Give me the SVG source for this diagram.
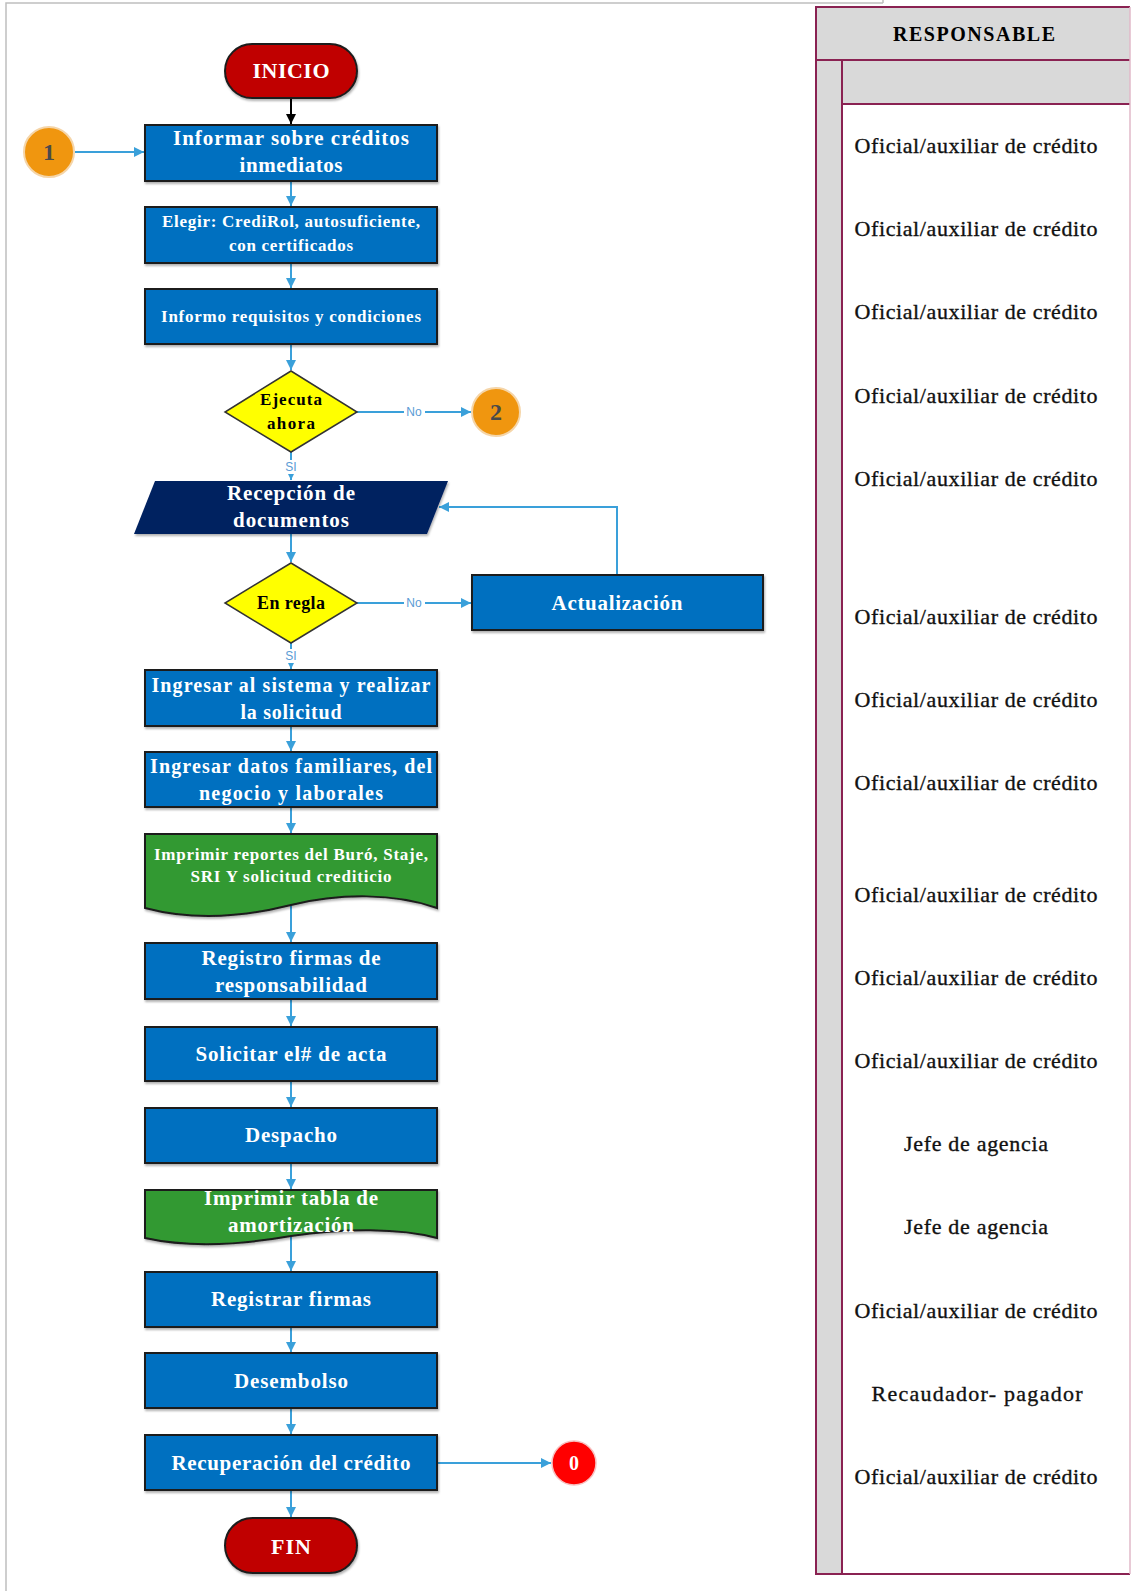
<svg xmlns="http://www.w3.org/2000/svg" width="1131" height="1591" viewBox="0 0 1131 1591">
  <style>
    .proc { fill: #0070c0; stroke: #1c1c1c; stroke-width: 2; }
    .doc { fill: #339933; stroke: #1c1c1c; stroke-width: 2; }
    .io { fill: #002060; }
    .dec { fill: #ffff00; stroke: #333333; stroke-width: 1.5; }
    .term { fill: #c00000; stroke: #1c1c1c; stroke-width: 2; }
    .ref { fill: #f0960f; }
    .end { fill: #ff0000; }
    .t { font-family: "Liberation Serif", "Times New Roman", serif; font-weight: bold; text-anchor: middle; dominant-baseline: central; }
    .w { fill: #ffffff; }
    .k { fill: #000000; }
    .f21 { font-size: 21px; }
    .f17 { font-size: 17px; }
    .lbl { font-family: "Liberation Sans", Arial, sans-serif; font-size: 12px; fill: #5b9bd5; text-anchor: middle; dominant-baseline: central; }
    .conn { fill: none; stroke: #3aa0da; stroke-width: 2; }
    .resp { font-family: "Liberation Serif", "Times New Roman", serif; font-size: 22px; fill: #111111; stroke: #111111; stroke-width: 0.35; text-anchor: middle; dominant-baseline: central; }
    .lane { fill: #d9d9d9; }
    .laneLine { stroke: #8a2252; stroke-width: 2; fill: none; }
  </style>
  <defs>
    <marker id="ah" viewBox="0 0 10 10" refX="10" refY="5" markerWidth="5" markerHeight="5" orient="auto">
      <path d="M0,0 L10,5 L0,10 Z" fill="#3aa0da"/>
    </marker>
    <marker id="ahk" viewBox="0 0 10 10" refX="10" refY="5" markerWidth="5" markerHeight="5" orient="auto">
      <path d="M0,0 L10,5 L0,10 Z" fill="#000000"/>
    </marker>
    <filter id="sh" x="-10%" y="-10%" width="130%" height="140%">
      <feDropShadow dx="1" dy="2" stdDeviation="1.2" flood-color="#000000" flood-opacity="0.3"/>
    </filter>
  </defs>

  <rect width="1131" height="1591" fill="#ffffff"/>

  <!-- page frame -->
  <path d="M6,1591 V3 H883 M883,0 V3" stroke="#bfbfbf" stroke-width="1.5" fill="none"/>

  <!-- responsible lane -->
  <g id="lane-responsable">
    <rect class="lane" x="816" y="7" width="314" height="53"/>
    <rect class="lane" x="816" y="60" width="26" height="1514"/>
    <rect class="lane" x="842" y="60" width="288" height="44"/>
    <path class="laneLine" d="M1130,7 H816 V1574 H1130"/>
    <path class="laneLine" d="M816,60 H1130 M842,60 V1574 M842,104 H1130"/>
    <path d="M1130,7 V1574" stroke="#e0b8c8" stroke-width="1.5"/>
    <text class="t k" x="974" y="34" font-size="20" textLength="162">RESPONSABLE</text>
    <text class="resp" x="976" y="145" textLength="243">Oficial/auxiliar de crédito</text>
    <text class="resp" x="976" y="228" textLength="243">Oficial/auxiliar de crédito</text>
    <text class="resp" x="976" y="311" textLength="243">Oficial/auxiliar de crédito</text>
    <text class="resp" x="976" y="395" textLength="243">Oficial/auxiliar de crédito</text>
    <text class="resp" x="976" y="478" textLength="243">Oficial/auxiliar de crédito</text>
    <text class="resp" x="976" y="616" textLength="243">Oficial/auxiliar de crédito</text>
    <text class="resp" x="976" y="699" textLength="243">Oficial/auxiliar de crédito</text>
    <text class="resp" x="976" y="782" textLength="243">Oficial/auxiliar de crédito</text>
    <text class="resp" x="976" y="894" textLength="243">Oficial/auxiliar de crédito</text>
    <text class="resp" x="976" y="977" textLength="243">Oficial/auxiliar de crédito</text>
    <text class="resp" x="976" y="1060" textLength="243">Oficial/auxiliar de crédito</text>
    <text class="resp" x="976" y="1143" textLength="144">Jefe de agencia</text>
    <text class="resp" x="976" y="1226" textLength="144">Jefe de agencia</text>
    <text class="resp" x="976" y="1310" textLength="243">Oficial/auxiliar de crédito</text>
    <text class="resp" x="977" y="1393" textLength="211">Recaudador- pagador</text>
    <text class="resp" x="976" y="1476" textLength="243">Oficial/auxiliar de crédito</text>
  </g>

  <!-- connectors -->
  <g id="connectors">
    <line x1="291" y1="98" x2="291" y2="124" stroke="#000000" stroke-width="2" marker-end="url(#ahk)"/>
    <line class="conn" x1="75" y1="152" x2="144" y2="152" marker-end="url(#ah)"/>
    <line class="conn" x1="291" y1="181" x2="291" y2="206" marker-end="url(#ah)"/>
    <line class="conn" x1="291" y1="263" x2="291" y2="288" marker-end="url(#ah)"/>
    <line class="conn" x1="291" y1="344" x2="291" y2="370" marker-end="url(#ah)"/>
    <line class="conn" x1="357" y1="412" x2="471" y2="412" marker-end="url(#ah)"/>
    <line class="conn" x1="291" y1="452" x2="291" y2="480" marker-end="url(#ah)"/>
    <line class="conn" x1="291" y1="534" x2="291" y2="562" marker-end="url(#ah)"/>
    <line class="conn" x1="357" y1="603" x2="471" y2="603" marker-end="url(#ah)"/>
    <polyline class="conn" points="617,575 617,507 439,507" marker-end="url(#ah)"/>
    <line class="conn" x1="291" y1="643" x2="291" y2="669" marker-end="url(#ah)"/>
    <line class="conn" x1="291" y1="726" x2="291" y2="751" marker-end="url(#ah)"/>
    <line class="conn" x1="291" y1="807" x2="291" y2="833" marker-end="url(#ah)"/>
    <line class="conn" x1="291" y1="905" x2="291" y2="942" marker-end="url(#ah)"/>
    <line class="conn" x1="291" y1="999" x2="291" y2="1026" marker-end="url(#ah)"/>
    <line class="conn" x1="291" y1="1081" x2="291" y2="1107" marker-end="url(#ah)"/>
    <line class="conn" x1="291" y1="1163" x2="291" y2="1189" marker-end="url(#ah)"/>
    <line class="conn" x1="291" y1="1236" x2="291" y2="1271" marker-end="url(#ah)"/>
    <line class="conn" x1="291" y1="1327" x2="291" y2="1352" marker-end="url(#ah)"/>
    <line class="conn" x1="291" y1="1408" x2="291" y2="1434" marker-end="url(#ah)"/>
    <line class="conn" x1="291" y1="1490" x2="291" y2="1517" marker-end="url(#ah)"/>
    <line class="conn" x1="437" y1="1463" x2="551" y2="1463" marker-end="url(#ah)"/>
    <!-- branch labels -->
    <rect x="404" y="405" width="21" height="14" fill="#ffffff"/>
    <text class="lbl" x="414" y="412">No</text>
    <rect x="404" y="596" width="21" height="14" fill="#ffffff"/>
    <text class="lbl" x="414" y="603">No</text>
    <rect x="285" y="460" width="12" height="14" fill="#ffffff"/>
    <text class="lbl" x="291" y="467" font-size="10">SI</text>
    <rect x="285" y="649" width="12" height="14" fill="#ffffff"/>
    <text class="lbl" x="291" y="656" font-size="10">SI</text>
  </g>

  <!-- nodes -->
  <g id="n-inicio">
    <rect class="term" x="225" y="44" width="132" height="54" rx="27" filter="url(#sh)"/>
    <text class="t w" x="291" y="70" font-size="22" textLength="77">INICIO</text>
  </g>

  <g id="n-ref1">
    <circle class="ref" cx="49" cy="152" r="25" stroke="#f5d5a8" stroke-width="2"/>
    <text class="t" x="49" y="152" font-size="24" fill="#4a4a4a">1</text>
  </g>

  <g id="n-informar">
    <rect class="proc" x="145" y="125" width="292" height="56" filter="url(#sh)"/>
    <text class="t w f21" x="291" y="138" textLength="236">Informar sobre créditos</text>
    <text class="t w f21" x="291" y="165" textLength="103">inmediatos</text>
  </g>

  <g id="n-elegir">
    <rect class="proc" x="145" y="207" width="292" height="56" filter="url(#sh)"/>
    <text class="t w f17" x="291" y="221" textLength="258">Elegir: CrediRol, autosuficiente,</text>
    <text class="t w f17" x="291" y="245" textLength="124">con certificados</text>
  </g>

  <g id="n-informo">
    <rect class="proc" x="145" y="289" width="292" height="55" filter="url(#sh)"/>
    <text class="t w f17" x="291" y="316" textLength="260">Informo requisitos y condiciones</text>
  </g>

  <g id="n-ejecuta">
    <polygon class="dec" points="291,371 357,412 291,452 225,412"/>
    <text class="t k f17" x="291" y="399" textLength="62">Ejecuta</text>
    <text class="t k f17" x="291" y="423" textLength="48">ahora</text>
  </g>

  <g id="n-ref2">
    <circle class="ref" cx="496" cy="412" r="24" stroke="#f5d5a8" stroke-width="2"/>
    <text class="t" x="496" y="412" font-size="24" fill="#4a4a4a">2</text>
  </g>

  <g id="n-recepcion">
    <polygon class="io" points="155,481 448,481 427,534 134,534" filter="url(#sh)"/>
    <text class="t w f21" x="291" y="493" textLength="128">Recepción de</text>
    <text class="t w f21" x="291" y="520" textLength="116">documentos</text>
  </g>

  <g id="n-enregla">
    <polygon class="dec" points="291,563 357,603 291,643 225,603"/>
    <text class="t k" x="291" y="603" font-size="18" textLength="68">En regla</text>
  </g>

  <g id="n-actualizacion">
    <rect class="proc" x="472" y="575" width="291" height="55" filter="url(#sh)"/>
    <text class="t w f21" x="617" y="603" textLength="131">Actualización</text>
  </g>

  <g id="n-ingresar-sistema">
    <rect class="proc" x="145" y="670" width="292" height="56" filter="url(#sh)"/>
    <text class="t w" x="291" y="685" font-size="20" textLength="279">Ingresar al sistema y realizar</text>
    <text class="t w" x="291" y="712" font-size="20" textLength="101">la solicitud</text>
  </g>

  <g id="n-ingresar-datos">
    <rect class="proc" x="145" y="752" width="292" height="55" filter="url(#sh)"/>
    <text class="t w" x="291" y="766" font-size="20" textLength="282">Ingresar datos familiares, del</text>
    <text class="t w" x="291" y="793" font-size="20" textLength="184">negocio y laborales</text>
  </g>

  <g id="n-imprimir-reportes">
    <path class="doc" d="M145,834 H437 V908 C395,893 340,893 291,905 C240,918 190,920 145,908 Z" filter="url(#sh)"/>
    <text class="t w f17" x="291" y="854" textLength="274">Imprimir reportes del Buró, Staje,</text>
    <text class="t w f17" x="291" y="876" textLength="201">SRI Y solicitud crediticio</text>
  </g>

  <g id="n-registro-firmas">
    <rect class="proc" x="145" y="943" width="292" height="56" filter="url(#sh)"/>
    <text class="t w f21" x="291" y="958" textLength="179">Registro firmas de</text>
    <text class="t w f21" x="291" y="985" textLength="152">responsabilidad</text>
  </g>

  <g id="n-solicitar-acta">
    <rect class="proc" x="145" y="1027" width="292" height="54" filter="url(#sh)"/>
    <text class="t w f21" x="291" y="1054" textLength="191">Solicitar el# de acta</text>
  </g>

  <g id="n-despacho">
    <rect class="proc" x="145" y="1108" width="292" height="55" filter="url(#sh)"/>
    <text class="t w f21" x="291" y="1135" textLength="92">Despacho</text>
  </g>

  <g id="n-imprimir-tabla">
    <path class="doc" d="M145,1190 H437 V1238 C400,1228 345,1228 291,1236 C240,1245 190,1248 145,1238 Z" filter="url(#sh)"/>
    <text class="t w f21" x="291" y="1198" textLength="174">Imprimir tabla de</text>
    <text class="t w f21" x="291" y="1225" textLength="126">amortización</text>
  </g>

  <g id="n-registrar-firmas">
    <rect class="proc" x="145" y="1272" width="292" height="55" filter="url(#sh)"/>
    <text class="t w f21" x="291" y="1299" textLength="160">Registrar firmas</text>
  </g>

  <g id="n-desembolso">
    <rect class="proc" x="145" y="1353" width="292" height="55" filter="url(#sh)"/>
    <text class="t w f21" x="291" y="1381" textLength="114">Desembolso</text>
  </g>

  <g id="n-recuperacion">
    <rect class="proc" x="145" y="1435" width="292" height="55" filter="url(#sh)"/>
    <text class="t w f21" x="291" y="1463" textLength="239">Recuperación del crédito</text>
  </g>

  <g id="n-ref0">
    <circle class="end" cx="574" cy="1463" r="22" stroke="#f7c0c0" stroke-width="1.5"/>
    <text class="t w" x="574" y="1463" font-size="20" font-weight="normal">0</text>
  </g>

  <g id="n-fin">
    <rect class="term" x="225" y="1518" width="132" height="55" rx="27.5" filter="url(#sh)"/>
    <text class="t w" x="291" y="1546" font-size="22" textLength="40">FIN</text>
  </g>
</svg>
